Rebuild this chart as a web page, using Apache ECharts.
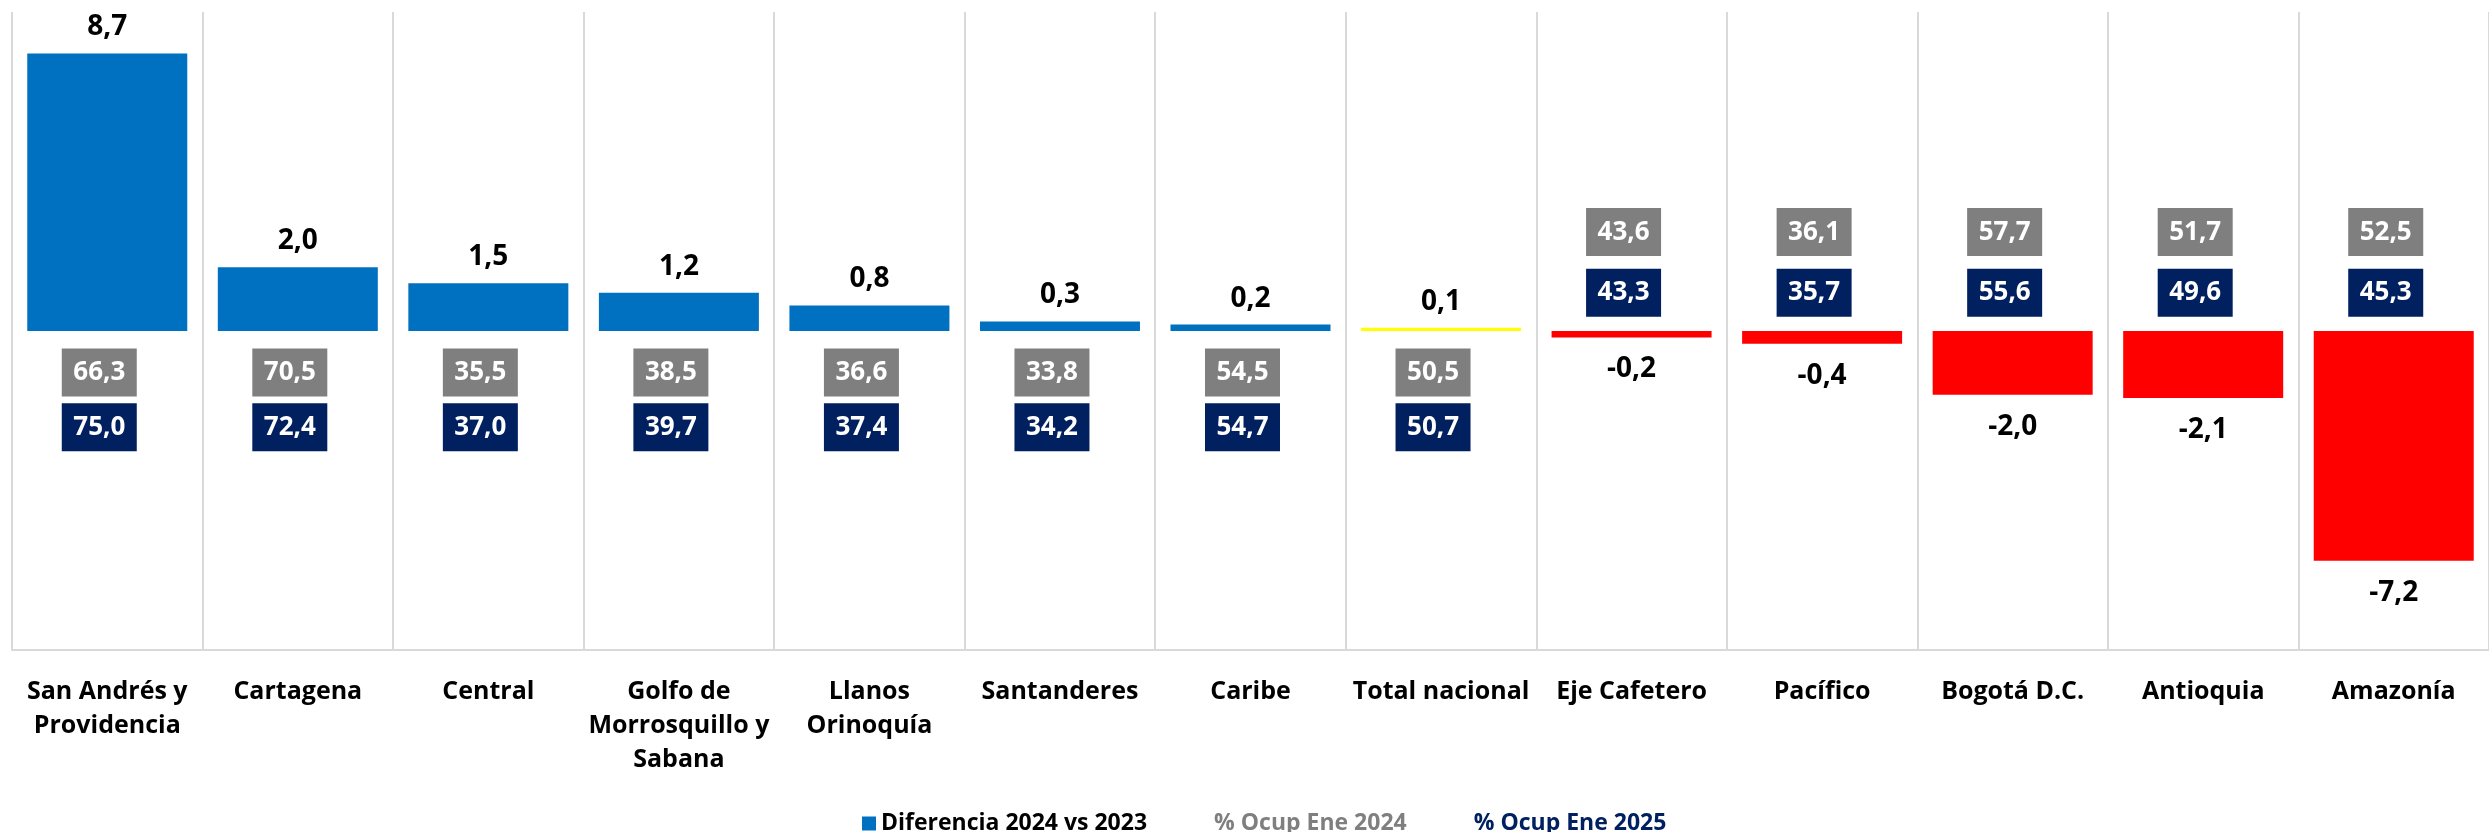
<!DOCTYPE html>
<html>
<head>
<meta charset="utf-8">
<script src="https://cdn.jsdelivr.net/npm/echarts@6/dist/echarts.min.js"></script>
<style>
    html, body { margin: 0; padding: 0; background: #fff; }
    #chart { width: 2489px; height: 832px; }
</style>
</head>
<body>
<div id="chart"></div>
<script>
var categorias = ['San Andrés y\nProvidencia', 'Cartagena', 'Central', 'Golfo de\nMorrosquillo y\nSabana',
    'Llanos\nOrinoquía', 'Santanderes', 'Caribe', 'Total nacional', 'Eje Cafetero', 'Pacífico',
    'Bogotá D.C.', 'Antioquia', 'Amazonía'];
var diferencia = [8.7, 2.0, 1.5, 1.2, 0.8, 0.3, 0.2, 0.1, -0.2, -0.4, -2.0, -2.1, -7.2];
var ocup2024 = [66.3, 70.5, 35.5, 38.5, 36.6, 33.8, 54.5, 50.5, 43.6, 36.1, 57.7, 51.7, 52.5];
var ocup2025 = [75.0, 72.4, 37.0, 39.7, 37.4, 34.2, 54.7, 50.7, 43.3, 35.7, 55.6, 49.6, 45.3];

var fonte = "'Open Sans', 'Noto Sans', sans-serif";

function fmt(v) {
    return v.toFixed(1).replace('.', ',');
}

// the occupancy boxes sit on the opposite side of the zero line from the bar,
// 2024 (gray) always above 2025 (navy)
function caixas(lista, cima, baixo) {
    return lista.map(function (v, i) {
        return [i, diferencia[i] >= 0 ? baixo : cima];
    });
}

function rotuloCaixa(lista, cor) {
    return {
        show: true,
        position: 'inside',
        offset: [-8, 0],
        formatter: function (p) { return fmt(lista[p.dataIndex]); },
        color: '#fff',
        fontFamily: fonte,
        fontWeight: 'bold',
        fontSize: 26,
        backgroundColor: cor,
        width: 75,
        height: 48,
        lineHeight: 48,
        align: 'center',
        verticalAlign: 'middle'
    };
}

var barras = diferencia.map(function (v, i) {
    var cor = categorias[i] == 'Total nacional' ? '#ffff00' : (v >= 0 ? '#0070c0' : '#ff0000');
    return {
        value: v,
        itemStyle: { color: cor },
        label: { position: v >= 0 ? 'top' : 'bottom', distance: v >= 0 ? 12 : 18 }
    };
});

var chart = echarts.init(document.getElementById('chart'));
chart.setOption({
    animation: false,
    backgroundColor: '#fff',
    grid: { left: 12, right: -16, top: 12, bottom: 182 },
    legend: {
        left: 857,
        top: 807,
        itemWidth: 14,
        itemHeight: 14,
        itemGap: 48,
        textStyle: { fontFamily: fonte, fontWeight: 'bold', fontSize: 23 },
        data: [
            { name: 'Diferencia 2024 vs 2023', icon: 'rect', itemStyle: { color: '#0070c0' }, textStyle: { color: '#000' } },
            { name: '% Ocup Ene 2024', itemStyle: { opacity: 0 }, textStyle: { color: '#7f7f7f' } },
            { name: '% Ocup Ene 2025', itemStyle: { opacity: 0 }, textStyle: { color: '#002060' } }
        ]
    },
    xAxis: {
        type: 'category',
        data: categorias,
        axisLine: { onZero: false, lineStyle: { color: '#d9d9d9', width: 2 } },
        axisTick: { show: false },
        splitLine: { show: true, lineStyle: { color: '#d9d9d9', width: 2 } },
        axisLabel: {
            interval: 0,
            margin: 25,
            color: '#000',
            fontFamily: fonte,
            fontWeight: 'bold',
            fontSize: 25,
            lineHeight: 34
        }
    },
    yAxis: {
        type: 'value',
        min: -10,
        max: 10,
        show: false,
        splitLine: { show: false }
    },
    series: [
        {
            name: 'Diferencia 2024 vs 2023',
            type: 'bar',
            barWidth: 160,
            data: barras,
            label: {
                show: true,
                color: '#000',
                fontFamily: fonte,
                fontWeight: 'bold',
                fontSize: 28,
                formatter: function (p) { return fmt(p.value); }
            }
        },
        {
            name: '% Ocup Ene 2024',
            type: 'scatter',
            symbolSize: 1,
            itemStyle: { color: 'rgba(0,0,0,0)', opacity: 1 },
            data: caixas(ocup2024, 3.1, -1.3),
            label: rotuloCaixa(ocup2024, '#7f7f7f'),
            z: 5
        },
        {
            name: '% Ocup Ene 2025',
            type: 'scatter',
            symbolSize: 1,
            itemStyle: { color: 'rgba(0,0,0,0)', opacity: 1 },
            data: caixas(ocup2025, 1.2, -3.02),
            label: rotuloCaixa(ocup2025, '#002060'),
            z: 5
        }
    ]
});
</script>
</body>
</html>
